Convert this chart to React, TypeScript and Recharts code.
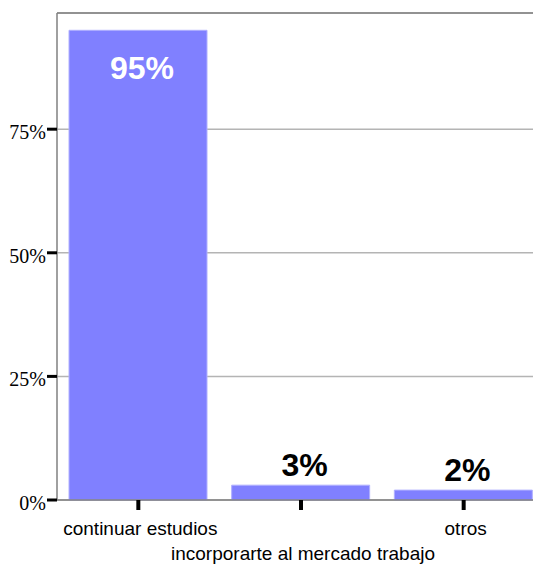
import { BarChart, Bar, XAxis, YAxis, CartesianGrid, ReferenceLine, LabelList } from 'recharts';

const categories = ['continuar estudios', 'incorporarte al mercado trabajo', 'otros'];
const percents = [95, 3, 2];
const yTicks = [0, 25, 50, 75];

const data = categories.map((name, i) => ({ name, value: percents[i] }));

const SANS = '"Liberation Sans", Arial, sans-serif';
const SERIF = '"Liberation Serif", "Times New Roman", serif';

const YTick = (props: any) => {
    const { x, y, payload } = props;
    return (
        <text x={x} y={y + 10} textAnchor="end" fontFamily={SERIF} fontSize={20} fill="#000">
            {payload.value}%
        </text>
    );
};

const XTick = (props: any) => {
    const { x, y, payload, index } = props;
    // every second label goes on a lower row
    const dy = index % 2 === 1 ? 50 : 25;
    return (
        <text x={x + 2} y={y + dy} textAnchor="middle" fontFamily={SANS} fontSize={19} fill="#000">
            {payload.value}
        </text>
    );
};

const BarLabel = (props: any) => {
    const { x, y, width, value } = props;
    const inside = value > 50;
    return (
        <text
            x={x + width / 2 + 4}
            y={inside ? y + 49 : y - 9}
            textAnchor="middle"
            fontFamily={SANS}
            fontWeight="bold"
            fontSize={32}
            fill={inside ? '#fff' : '#000'}
        >
            {value}%
        </text>
    );
};

export default function App() {
    return (
        <div style={{ width: 533, height: 566, overflow: 'hidden', background: '#fff' }}>
            <style>{'html,body{margin:0;overflow:hidden;background:#fff}'}</style>
            <BarChart
                width={545}
                height={566}
                data={data}
                margin={{ top: 13, right: 0, left: 0, bottom: 0 }}
            >
                <CartesianGrid vertical={false} stroke="#b4b4b4" strokeWidth={1.5} />
                <ReferenceLine y={98.5} stroke="#808080" strokeWidth={1.5} />
                <XAxis
                    dataKey="name"
                    height={66}
                    interval={0}
                    axisLine={{ stroke: '#808080', strokeWidth: 1.5 }}
                    tickLine={{ stroke: '#000', strokeWidth: 4 }}
                    tickSize={10}
                    tickMargin={0}
                    tick={<XTick />}
                />
                <YAxis
                    width={57}
                    domain={[0, 98.5]}
                    ticks={yTicks}
                    interval={0}
                    axisLine={{ stroke: '#808080', strokeWidth: 1.5 }}
                    tickLine={{ stroke: '#000', strokeWidth: 3 }}
                    tickSize={10}
                    tickMargin={1}
                    tick={<YTick />}
                />
                <Bar dataKey="value" fill="#8080ff" stroke="#b0b0ff" strokeWidth={1} barSize={138} isAnimationActive={false}>
                    <LabelList dataKey="value" content={<BarLabel />} />
                </Bar>
            </BarChart>
        </div>
    );
}
